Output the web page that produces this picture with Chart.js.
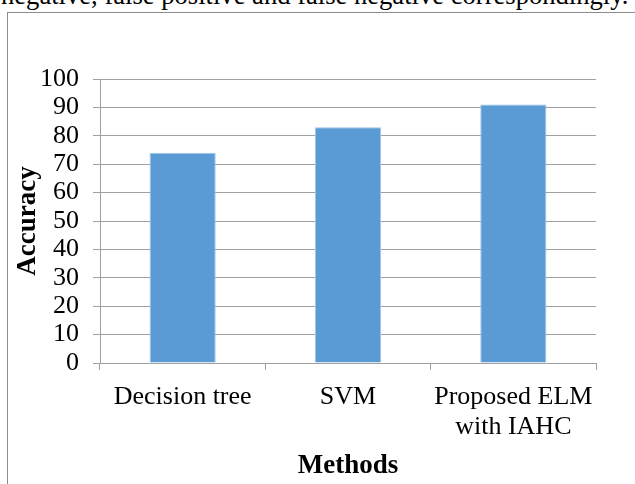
<!DOCTYPE html>
<html>
<head>
<meta charset="utf-8">
<script src="https://cdn.jsdelivr.net/npm/chart.js@4/dist/chart.umd.min.js"></script>
<style>
  body { margin: 0; background: #fff; overflow: hidden; }
  #texto {
    position: absolute; left: 1px; top: -18px; white-space: nowrap;
    font-family: 'Liberation Serif', serif; font-size: 26.6px; line-height: 27px; color: #000;
  }
  #marco {
    position: absolute; left: 7px; top: 12px; width: 700px; height: 600px;
    border-left: 1px solid #8c8c8c; border-top: 1px solid #8c8c8c;
  }
  #chart { position: absolute; left: 0; top: 0; }
</style>
</head>
<body>
<div id="texto">negative, false positive and false negative correspondingly.</div>
<div id="marco"></div>
<canvas id="chart" width="635" height="484" style="width:635px;height:484px"></canvas>
<script>
var metodos = ['Decision tree', 'SVM', ['Proposed ELM', 'with IAHC']];
var precision = [74, 83, 91];
var ejeY = { min: 0, max: 100, paso: 10 };

var fuente = 'Liberation Serif';
var gris = '#a0a0a0';

var canvas = document.getElementById('chart').getContext('2d');
window.bar = new Chart(canvas, {
    type: 'bar',
    data: {
        labels: metodos,
        datasets: [{
            label: 'Accuracy',
            data: precision,
            backgroundColor: '#5b9bd5',
            borderColor: '#9dc3e6',
            borderWidth: 1,
            barPercentage: 0.4,
            categoryPercentage: 1
        }]
    },
    options: {
        responsive: false,
        animation: false,
        layout: {
            padding: { left: 0, right: 39, top: 79, bottom: 0 }
        },
        plugins: {
            legend: { display: false },
            tooltip: { enabled: false }
        },
        scales: {
            x: {
                afterFit: function (eje) { eje.height = 121; },
                grid: {
                    drawOnChartArea: false,
                    color: gris,
                    tickLength: 7,
                    offset: true
                },
                border: { color: gris },
                ticks: {
                    color: '#000',
                    padding: 12,
                    maxRotation: 0,
                    autoSkip: false,
                    font: { family: fuente, size: 26, lineHeight: 1.15 }
                },
                title: {
                    display: true,
                    text: 'Methods',
                    color: '#000',
                    padding: { top: 0, bottom: 2 },
                    font: { family: fuente, size: 27, weight: 'bold', lineHeight: 1.2 }
                }
            },
            y: {
                min: ejeY.min,
                max: ejeY.max,
                afterFit: function (eje) { eje.width = 100; },
                grid: {
                    color: gris,
                    tickLength: 7
                },
                border: { color: gris },
                ticks: {
                    stepSize: ejeY.paso,
                    autoSkip: false,
                    color: '#000',
                    padding: 14,
                    font: { family: fuente, size: 26 }
                },
                title: {
                    display: true,
                    text: 'Accuracy',
                    color: '#000',
                    padding: { top: 12, bottom: 0 },
                    font: { family: fuente, size: 27, weight: 'bold', lineHeight: 1.2 }
                }
            }
        }
    }
});
</script>
</body>
</html>
